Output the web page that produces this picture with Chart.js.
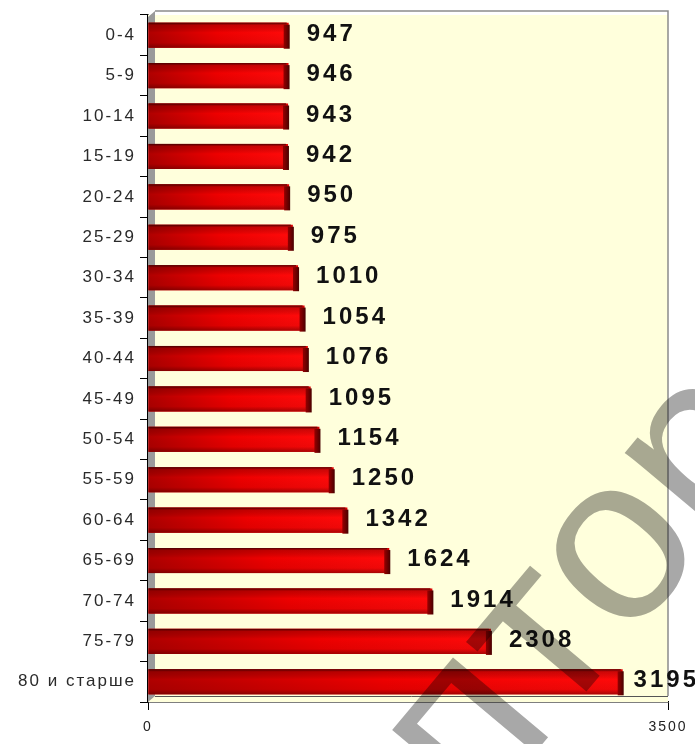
<!DOCTYPE html>
<html>
<head>
<meta charset="utf-8">
<script src="https://cdn.jsdelivr.net/npm/chart.js@4.4.0/dist/chart.umd.min.js"></script>
<style>
  html, body { margin: 0; padding: 0; background: #fff; }
  #wrap { width: 695px; height: 744px; }
</style>
</head>
<body>
<div id="wrap"><canvas id="ageChart" width="695" height="744"></canvas></div>
<script>
const ageGroups = ["0-4", "5-9", "10-14", "15-19", "20-24", "25-29", "30-34", "35-39",
  "40-44", "45-49", "50-54", "55-59", "60-64", "65-69", "70-74", "75-79", "80 и старше"];
const values = [947, 946, 943, 942, 950, 975, 1010, 1054, 1076, 1095, 1154, 1250, 1342,
  1624, 1914, 2308, 3195];
const axisMin = 0;
const axisMax = 3500;
const watermark = "птор";

// yellow plot area, grey left wall and frame
const backdrop = {
  id: "backdrop",
  beforeDraw(chart) {
    chart.ctx.letterSpacing = "2px";
  },
  beforeDatasetsDraw(chart) {
    const { ctx, chartArea: a } = chart;
    ctx.save();
    ctx.fillStyle = "#ffffdc";
    ctx.fillRect(a.left, a.top, a.right - a.left, a.bottom - a.top);
    ctx.fillStyle = "#9a9a9a";
    ctx.beginPath();
    ctx.moveTo(a.left, a.top + 2);
    ctx.lineTo(a.left + 7, a.top - 4);
    ctx.lineTo(a.left + 7, a.bottom - 6);
    ctx.lineTo(a.left, a.bottom);
    ctx.fill();
    ctx.strokeStyle = "#8c8c8c";
    ctx.lineWidth = 1.5;
    ctx.beginPath();
    ctx.moveTo(a.left + 7, a.top - 4);
    ctx.lineTo(a.right, a.top - 4);
    ctx.lineTo(a.right, a.bottom - 6);
    ctx.stroke();
    ctx.strokeStyle = "#555";
    ctx.lineWidth = 1;
    ctx.beginPath();
    ctx.moveTo(a.left + 7, a.bottom - 5.5);
    ctx.lineTo(a.right, a.bottom - 5.5);
    ctx.stroke();
    ctx.restore();
  }
};

// shaded 3D bars and bold value labels
const bars3d = {
  id: "bars3d",
  afterDatasetsDraw(chart) {
    const ctx = chart.ctx;
    const meta = chart.getDatasetMeta(0);
    ctx.save();
    meta.data.forEach((bar, i) => {
      const x0 = bar.base, x1 = bar.x, h = bar.height, top = bar.y - h / 2;
      const cap = 6;
      const end = x1 - 2;
      let g = ctx.createLinearGradient(x0, 0, end, 0);
      g.addColorStop(0, "#b00000");
      g.addColorStop(0.5, "#ee0000");
      g.addColorStop(1, "#ff0a0a");
      ctx.fillStyle = g;
      ctx.fillRect(x0, top, end - x0, h);
      let v = ctx.createLinearGradient(0, top, 0, top + h);
      v.addColorStop(0, "rgba(50,0,0,0.85)");
      v.addColorStop(0.1, "rgba(60,0,0,0.25)");
      v.addColorStop(0.4, "rgba(0,0,0,0)");
      v.addColorStop(0.8, "rgba(60,0,0,0.08)");
      v.addColorStop(1, "rgba(60,0,0,0.45)");
      ctx.fillStyle = v;
      ctx.fillRect(x0, top, end - x0, h);
      let c = ctx.createLinearGradient(end - 2, 0, end + cap - 2, 0);
      c.addColorStop(0, "#8a0000");
      c.addColorStop(1, "#3c0000");
      ctx.fillStyle = c;
      ctx.fillRect(end - 3, top + 2, cap, h - 1);

      ctx.font = "bold 24px Arial, 'Liberation Sans', sans-serif";
      ctx.letterSpacing = "3px";
      ctx.fillStyle = "#111";
      ctx.textBaseline = "middle";
      ctx.textAlign = "left";
      const txt = String(values[i]);
      const w = ctx.measureText(txt).width;
      const lx = Math.min(x1 + 18, chart.width - w + 4);
      ctx.fillText(txt, lx, bar.y - 1);
    });
    ctx.restore();
  }
};

// faint diagonal watermark over the whole picture
const stamp = {
  id: "stamp",
  afterDraw(chart) {
    const ctx = chart.ctx;
    const size = 235, ang = -50 * Math.PI / 180;
    ctx.save();
    ctx.letterSpacing = "0px";
    ctx.font = size + "px Arial, 'Liberation Sans', sans-serif";
    const before = ctx.measureText(watermark.slice(0, 2)).width;
    const ow = ctx.measureText(watermark[2]).width;
    const lx = before + ow / 2, ly = -0.26 * size;
    const cx = 623, cy = 553;
    const ox = cx - (lx * Math.cos(ang) - ly * Math.sin(ang));
    const oy = cy - (lx * Math.sin(ang) + ly * Math.cos(ang));
    ctx.globalCompositeOperation = "multiply";
    ctx.translate(ox, oy);
    ctx.rotate(ang);
    ctx.fillStyle = "#a8a8a8";
    ctx.textBaseline = "alphabetic";
    ctx.fillText(watermark, 0, 0);
    ctx.restore();
  }
};

new Chart(document.getElementById("ageChart").getContext("2d"), {
  type: "bar",
  data: {
    labels: ageGroups,
    datasets: [{
      data: values,
      backgroundColor: "#e00000",
      barPercentage: 0.62,
      categoryPercentage: 1
    }]
  },
  options: {
    indexAxis: "y",
    responsive: false,
    animation: false,
    devicePixelRatio: 1,
    layout: { padding: { top: 15, right: 27, left: 0, bottom: 0 } },
    plugins: { legend: { display: false }, tooltip: { enabled: false } },
    scales: {
      x: {
        min: axisMin,
        max: axisMax,
        afterBuildTicks(scale) {
          scale.ticks = [{ value: axisMin }, { value: axisMax }];
        },
        afterFit(scale) { scale.height = 42; },
        grid: { drawOnChartArea: false, drawTicks: true, tickLength: 8, color: "#000" },
        border: { color: "#000", width: 1.5 },
        ticks: {
          color: "#222", font: { family: "Arial", size: 14 }, padding: 9,
          callback: (v) => String(v)
        }
      },
      y: {
        afterFit(scale) { scale.width = 148; },
        grid: { offset: true, drawOnChartArea: false, drawTicks: true, tickLength: 8, color: "#000" },
        border: { color: "#000", width: 1.5 },
        ticks: { color: "#2a2a2a", font: { family: "Arial", size: 17 }, padding: 4 }
      }
    }
  },
  plugins: [backdrop, bars3d, stamp]
});
</script>
</body>
</html>
